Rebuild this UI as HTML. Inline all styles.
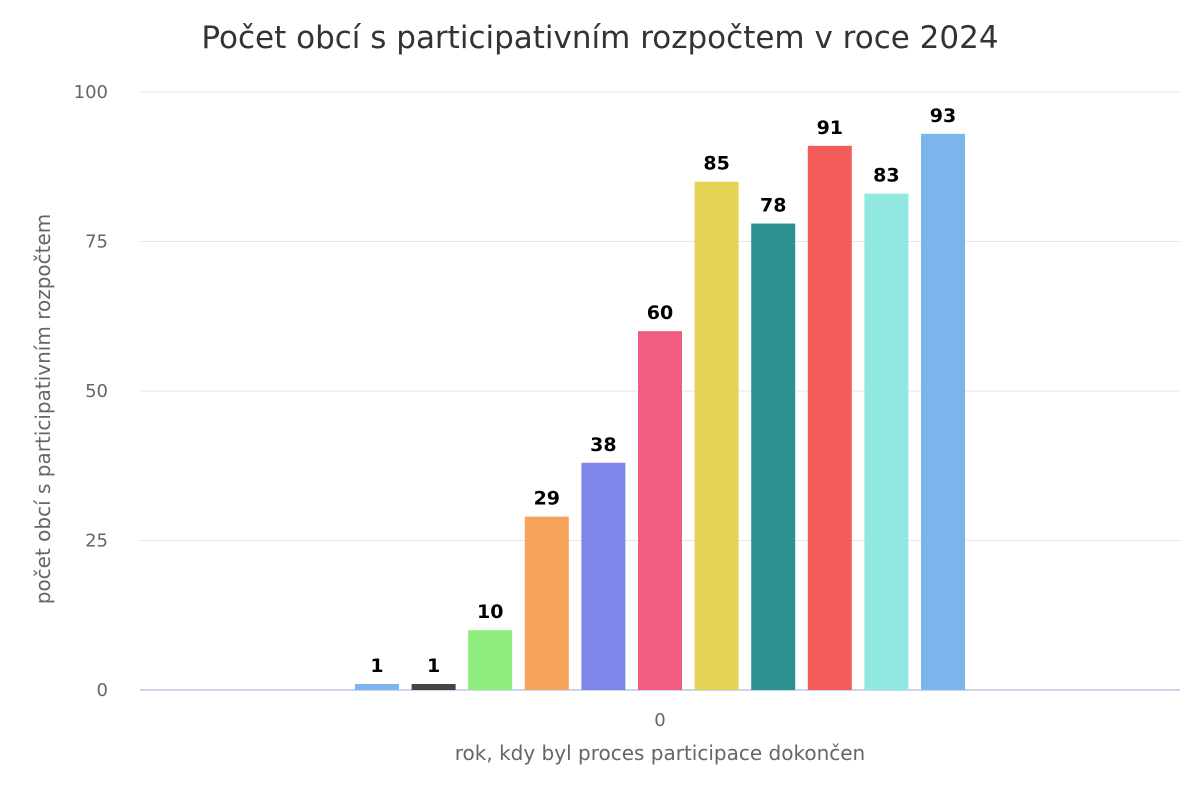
<!DOCTYPE html>
<html><head><meta charset="utf-8"><style>
body{margin:0;background:#fff;font-family:"DejaVu Sans","Liberation Sans",sans-serif;}
svg text{font-family:"DejaVu Sans","Liberation Sans",sans-serif;}
</style></head><body>
<svg id="chart" width="1200" height="800" xmlns="http://www.w3.org/2000/svg">
<rect width="1200" height="800" fill="#fff"/>
<text x="600" y="48" text-anchor="middle" font-size="31" fill="#333">Počet obcí s participativním rozpočtem v roce 2024</text>
<g id="grid"></g><g id="bars"></g><g id="labels"></g>
<text transform="translate(50,409) rotate(-90)" text-anchor="middle" font-size="20" fill="#666">počet obcí s participativním rozpočtem</text>
<text x="660" y="726" text-anchor="middle" font-size="18" fill="#666">0</text>
<text x="660" y="760" text-anchor="middle" font-size="20" fill="#666">rok, kdy byl proces participace dokončen</text>
</svg>
<script>
const categories=["s1","s2","s3","s4","s5","s6","s7","s8","s9","s10","s11"];
const values=[1,1,10,29,38,60,85,78,91,83,93];
const colors=["#7cb5ec","#434348","#90ed7d","#f7a35c","#8085e9","#f15c80","#e4d354","#2b908f","#f45b5b","#91e8e1","#7cb5ec"];
const yTicks=[0,25,50,75,100];
const NS="http://www.w3.org/2000/svg";
const x0=140,x1=1180,yBase=690,yTop=92;
const y=v=>yBase-(v/100)*(yBase-yTop);
const step=56.6,bw=44,center=660;
const xc=i=>center+(i-(values.length-1)/2)*step;
const grid=document.getElementById('grid');
yTicks.forEach(t=>{
 const l=document.createElementNS(NS,'line');
 
 
 l.setAttribute('x1',x0);l.setAttribute('x2',x1);l.setAttribute('y1',y(t));l.setAttribute('y2',y(t));
 l.setAttribute('stroke',t===0?'#ccd6eb':'#e6e6e6');l.setAttribute('stroke-width',t===0?2:1);
 grid.appendChild(l);
 const tx=document.createElementNS(NS,'text');
 
 
 tx.setAttribute('x',108);tx.setAttribute('y',y(t)+6);tx.setAttribute('text-anchor','end');
 tx.setAttribute('font-size','18');tx.setAttribute('fill','#666');tx.textContent=t;
 grid.appendChild(tx);
});
const bars=document.getElementById('bars'),labels=document.getElementById('labels');
values.forEach((v,i)=>{
 const r=document.createElementNS(NS,'rect');
 
 
 r.setAttribute('x',xc(i)-bw/2);r.setAttribute('y',y(v));r.setAttribute('width',bw);r.setAttribute('height',yBase-y(v));
 r.setAttribute('fill',colors[i]);
 bars.appendChild(r);
 const t=document.createElementNS(NS,'text');
 
 
 t.setAttribute('x',xc(i));t.setAttribute('y',y(v)-12);t.setAttribute('text-anchor','middle');
 t.setAttribute('font-size','19');t.setAttribute('font-weight','bold');t.setAttribute('fill','#000');
 t.setAttribute('stroke','#fff');t.setAttribute('stroke-width','3');t.setAttribute('paint-order','stroke');
 t.textContent=v;
 labels.appendChild(t);
});
</script>
</body></html>
